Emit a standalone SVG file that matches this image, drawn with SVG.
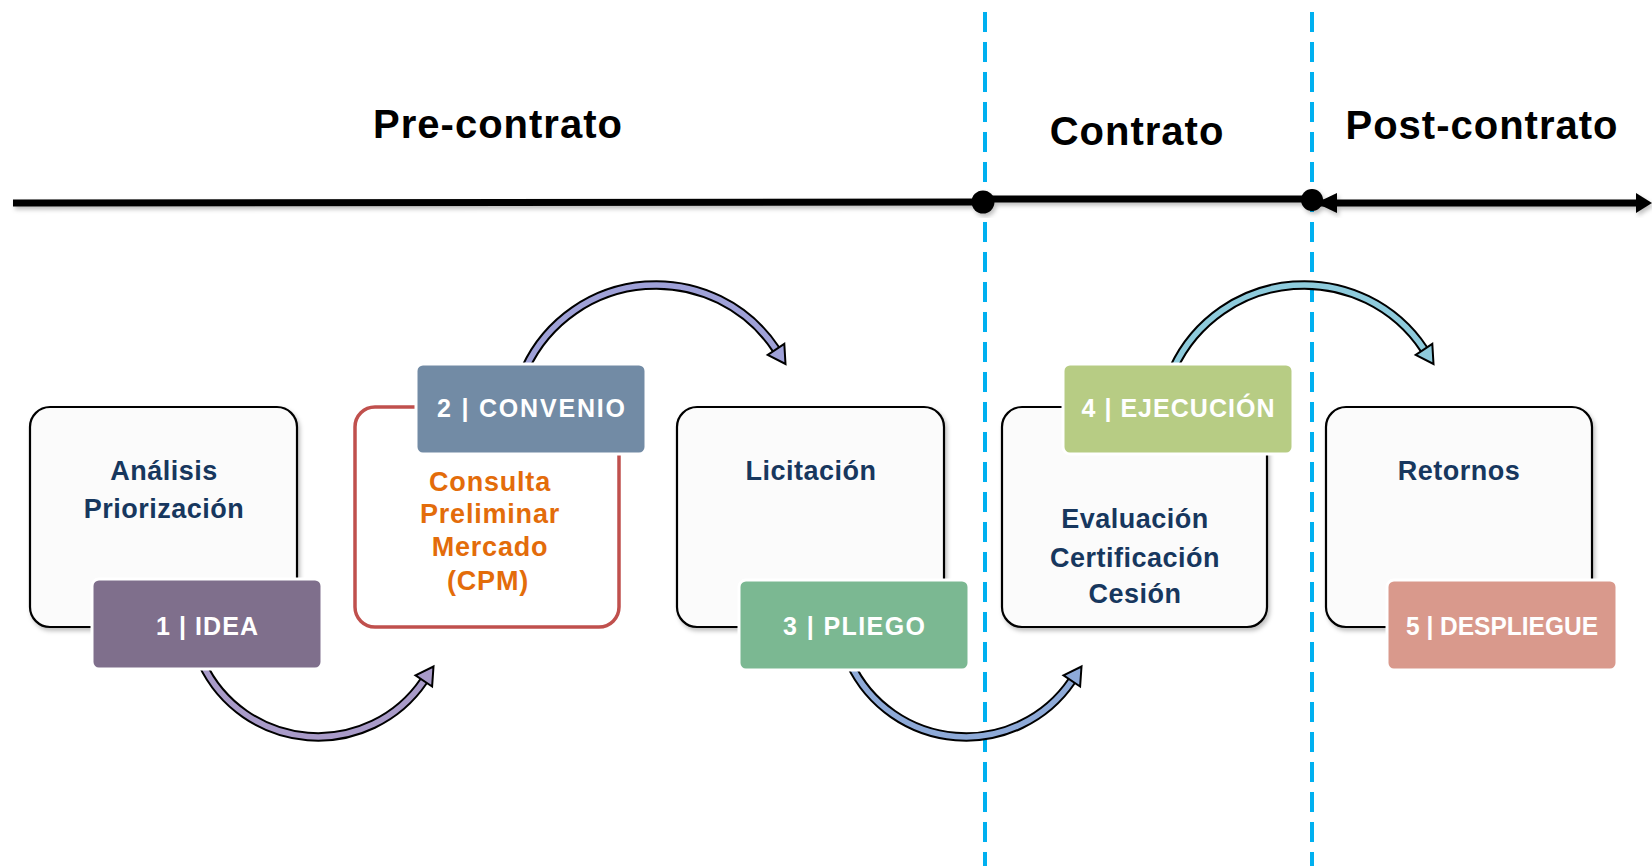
<svg xmlns="http://www.w3.org/2000/svg" width="1652" height="866" viewBox="0 0 1652 866">
<style>
.bg{fill:#ffffff}
.head{font-family:"Liberation Sans",Arial,sans-serif;font-weight:bold;font-size:40px;letter-spacing:1px;fill:#000;text-anchor:middle}
.box{fill:#fbfbfb;stroke:#000;stroke-width:2.2}
.redbox{fill:#ffffff;stroke:#c0504d;stroke-width:3.5}
.tag{stroke:#ffffff;stroke-width:3}
.navy{font-family:"Liberation Sans",Arial,sans-serif;font-weight:bold;font-size:27px;letter-spacing:0.5px;fill:#17375e;text-anchor:middle}
.orange{font-family:"Liberation Sans",Arial,sans-serif;font-weight:bold;font-size:27px;letter-spacing:0.8px;fill:#e36c0a;text-anchor:middle}
.tagtxt{font-family:"Liberation Sans",Arial,sans-serif;font-weight:bold;font-size:25px;fill:#ffffff;text-anchor:middle}
.tl{stroke:#000;stroke-width:7;fill:none}
.dash{stroke:#00b0f0;stroke-width:4;stroke-dasharray:20 10;fill:none}
.arcO{fill:none;stroke:#000;stroke-width:9.5}
.head-o{stroke:#000;stroke-width:2;stroke-linejoin:miter}
</style>
<defs>
<filter id="sh" x="-5%" y="-5%" width="115%" height="120%">
<feDropShadow dx="2" dy="3" stdDeviation="2" flood-color="#000" flood-opacity="0.25"/>
</filter>
</defs>
<rect class="bg" x="0" y="0" width="1652" height="866"/>

<g id="dividers">
<line class="dash" x1="985" y1="12" x2="985" y2="866"/>
<line class="dash" x1="1312" y1="12" x2="1312" y2="866"/>
</g>

<g id="timeline" filter="url(#sh)">
<line class="tl" x1="13" y1="203" x2="983" y2="202"/>
<line class="tl" x1="983" y1="199" x2="1312" y2="199"/>
<line class="tl" x1="1318" y1="203" x2="1640" y2="203"/>
<circle cx="983" cy="202" r="11.5" fill="#000"/>
<circle cx="1312" cy="200" r="11" fill="#000"/>
<polygon points="1316,203 1337,193 1337,213" fill="#000"/>
<polygon points="1652,203 1636,193 1636,213" fill="#000"/>
</g>

<g id="phases">
<text class="head" x="498" y="138">Pre-contrato</text>
<text class="head" x="1137" y="145">Contrato</text>
<text class="head" x="1482" y="139">Post-contrato</text>
</g>

<g id="connectors">
<g id="c12">
<path class="arcO" d="M202,663.1 A128,128 0 0 0 423.8,680.9"/>
<path d="M202,663.1 A128,128 0 0 0 423.8,680.9" fill="none" stroke="#a99bc9" stroke-width="5.5"/>
<polygon class="head-o" points="432.1,686.5 415.5,675.3 433.5,666.5" fill="#a99bc9"/>
</g>
<g id="c23">
<path class="arcO" d="M525.5,368.1 A144,144 0 0 1 776,349.3"/>
<path d="M525.5,368.1 A144,144 0 0 1 776,349.3" fill="none" stroke="#9fa1d8" stroke-width="5.5"/>
<polygon class="head-o" points="784.3,343.8 767.7,354.8 785.5,364" fill="#9fa1d8"/>
</g>
<g id="c34">
<path class="arcO" d="M850,663.1 A128,128 0 0 0 1071.8,680.9"/>
<path d="M850,663.1 A128,128 0 0 0 1071.8,680.9" fill="none" stroke="#8eaad8" stroke-width="5.5"/>
<polygon class="head-o" points="1080.1,686.5 1063.5,675.3 1081.5,666.5" fill="#8eaad8"/>
</g>
<g id="c45">
<path class="arcO" d="M1173.5,368.1 A144,144 0 0 1 1424,349.3"/>
<path d="M1173.5,368.1 A144,144 0 0 1 1424,349.3" fill="none" stroke="#8ecbdc" stroke-width="5.5"/>
<polygon class="head-o" points="1432.3,343.8 1415.7,354.8 1433.5,364" fill="#8ecbdc"/>
</g>
</g>

<g id="node1">
<rect class="box" x="30" y="407" width="267" height="220" rx="20" filter="url(#sh)"/>
<text class="navy" x="164" y="480">Análisis</text>
<text class="navy" x="164" y="518">Priorización</text>
<rect class="tag" x="92" y="579" width="230" height="90" rx="7" fill="#7f6f8c"/>
<text class="tagtxt" x="207" y="635" textLength="102" lengthAdjust="spacing">1 | IDEA</text>
</g>

<g id="node2">
<rect class="redbox" x="355" y="407" width="264" height="220" rx="20"/>
<text class="orange" x="490" y="491">Consulta</text>
<text class="orange" x="490" y="523">Preliminar</text>
<text class="orange" x="490" y="556">Mercado</text>
<text class="orange" x="488" y="590">(CPM)</text>
<rect class="tag" x="416" y="364" width="230" height="90" rx="7" fill="#728ba5"/>
<text class="tagtxt" x="531" y="417" textLength="188" lengthAdjust="spacing">2 | CONVENIO</text>
</g>

<g id="node3">
<rect class="box" x="677" y="407" width="267" height="220" rx="20" filter="url(#sh)"/>
<text class="navy" x="811" y="480">Licitación</text>
<rect class="tag" x="739" y="580" width="230" height="90" rx="7" fill="#7bb892"/>
<text class="tagtxt" x="854" y="635" textLength="142" lengthAdjust="spacing">3 | PLIEGO</text>
</g>

<g id="node4">
<rect class="box" x="1002" y="407" width="265" height="220" rx="20" filter="url(#sh)"/>
<text class="navy" x="1135" y="528">Evaluación</text>
<text class="navy" x="1135" y="567">Certificación</text>
<text class="navy" x="1135" y="603">Cesión</text>
<rect class="tag" x="1063" y="364" width="230" height="90" rx="7" fill="#b7cc84"/>
<text class="tagtxt" x="1178" y="417" textLength="193" lengthAdjust="spacing">4 | EJECUCIÓN</text>
</g>

<g id="node5">
<rect class="box" x="1326" y="407" width="266" height="220" rx="20" filter="url(#sh)"/>
<text class="navy" x="1459" y="480">Retornos</text>
<rect class="tag" x="1387" y="580" width="230" height="90" rx="7" fill="#d9998c"/>
<text class="tagtxt" x="1502" y="635" textLength="192" lengthAdjust="spacingAndGlyphs">5 | DESPLIEGUE</text>
</g>
</svg>
